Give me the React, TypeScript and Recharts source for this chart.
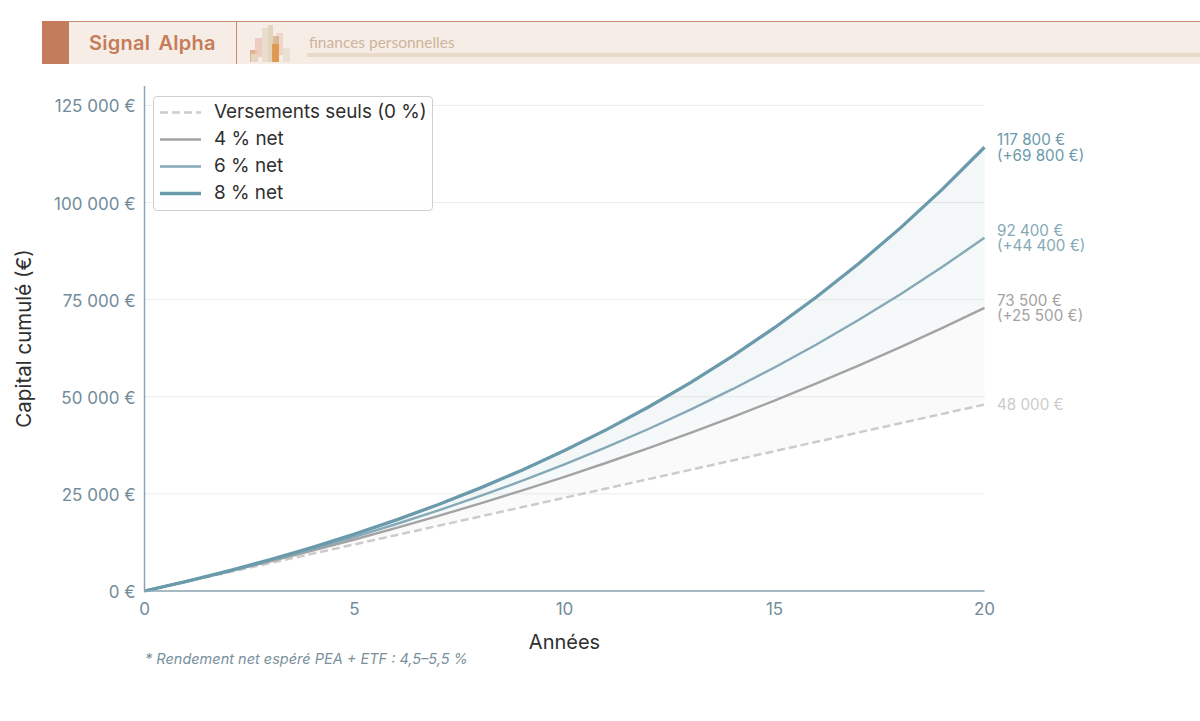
import React from 'react';
import { ComposedChart, Area, Line, XAxis, YAxis, CartesianGrid, Label, LabelList } from 'recharts';

const years = [0, 1, 2, 3, 4, 5, 6, 7, 8, 9, 10, 11, 12, 13, 14, 15, 16, 17, 18, 19, 20];
const deposits = [0, 2400, 4800, 7200, 9600, 12000, 14400, 16800, 19200, 21600, 24000, 26400, 28800, 31200, 33600, 36000, 38400, 40800, 43200, 45600, 48000];
const net4 = [0, 2448, 4994, 7642, 10396, 13259, 16238, 19335, 22556, 25907, 29391, 33015, 36783, 40702, 44779, 49018, 53426, 58011, 62780, 67739, 72897];
const net6 = [0, 2472, 5092, 7870, 10814, 13935, 17243, 20750, 24467, 28407, 32583, 37010, 41702, 46677, 51949, 57538, 63463, 69742, 76399, 83455, 90934];
const net8 = [0, 2496, 5192, 8103, 11247, 14643, 18310, 22271, 26549, 31169, 36159, 41547, 47367, 53652, 60440, 67772, 75690, 84240, 93476, 103450, 114222];

const yTicks = [0, 25000, 50000, 75000, 100000, 125000];
const xTicks = [0, 5, 10, 15, 20];
const yTickLabels = ['0 €', '25 000 €', '50 000 €', '75 000 €', '100 000 €', '125 000 €'];

const endLabels0 = ['48 000 €'];
const endLabels4 = ['73 500 €', '(+25 500 €)'];
const endLabels6 = ['92 400 €', '(+44 400 €)'];
const endLabels8 = ['117 800 €', '(+69 800 €)'];

const legendItems = [
  { name: 'Versements seuls (0 %)', color: '#cccccc', width: 2.5, dash: '8 4' },
  { name: '4 % net', color: '#a3a3a3', width: 2.4 },
  { name: '6 % net', color: '#85a9b6', width: 2.4 },
  { name: '8 % net', color: '#6a9aab', width: 3.3 },
];

const tableData = years.map((year, i) => ({
  year,
  deposits: deposits[i],
  net4: net4[i],
  net6: net6[i],
  net8: net8[i],
  band04: [deposits[i], net4[i]],
  band46: [net4[i], net6[i]],
  band68: [net6[i], net8[i]],
}));

const FONT = 'Inter, sans-serif';
const AXIS_COLOR = '#8aa4b2';
const TICK_COLOR = '#728c9a';

function endLabel(lines: string[], color: string) {
  return (props: any) => {
    const { x, y, index } = props;
    if (index !== years.length - 1) return null;
    const top = y - 0.3 - ((lines.length - 1) * 15.5) / 2;
    return (
      <text x={x + 12.5} y={top} fill={color} fontSize={15.2} fontFamily={FONT} dominantBaseline="central">
        {lines.map((line, i) => (
          <tspan key={line} x={x + 12.5} dy={i === 0 ? 0 : 15.5}>
            {line}
          </tspan>
        ))}
      </text>
    );
  };
}

function LegendBox() {
  return (
    <div
      style={{
        position: 'absolute',
        left: 153,
        top: 96,
        width: 278,
        height: 113,
        border: '1px solid #cfcfcf',
        borderRadius: 4,
        background: 'rgba(255,255,255,0.9)',
        fontFamily: FONT,
        fontSize: 18.9,
        color: '#2f2f2f',
      }}
    >
      {legendItems.map((item, i) => (
        <div key={item.name} style={{ position: 'absolute', left: 0, top: 1 + i * 27, height: 27, width: 278 }}>
          <svg width={50} height={27} style={{ position: 'absolute', left: 6, top: 1 }}>
            <line x1={0} x2={41} y1={13.5} y2={13.5} stroke={item.color} strokeWidth={item.width} strokeDasharray={item.dash} />
          </svg>
          <span style={{ position: 'absolute', left: 60, top: 3, lineHeight: '22px', whiteSpace: 'nowrap' }}>{item.name}</span>
        </div>
      ))}
    </div>
  );
}

// small skyline logo in the banner
const logoBars = [
  { x: 250, y: 50, w: 8, h: 12, c: '#dfa77f' },
  { x: 255, y: 38, w: 7, h: 19, c: '#edc5bb' },
  { x: 251, y: 54, w: 7, h: 8, c: '#e3dccd' },
  { x: 262, y: 28, w: 6, h: 34, c: '#e6dac8' },
  { x: 268, y: 25, w: 5, h: 37, c: '#e0cfb6' },
  { x: 276, y: 33, w: 7, h: 22, c: '#f0cfc6' },
  { x: 273, y: 36, w: 6, h: 26, c: '#d5b48a' },
  { x: 272, y: 44, w: 7, h: 18, c: '#dc9448' },
  { x: 283, y: 48, w: 7, h: 14, c: '#e6dfcf' },
];

function Banner() {
  return (
    <div style={{ position: 'absolute', left: 42, top: 21, width: 1158, height: 43, background: '#f6ede7', borderTop: '1px solid #c98a70', boxSizing: 'border-box' }}>
      <div style={{ position: 'absolute', left: 0, top: -1, width: 27, height: 43, background: '#c47d5c' }} />
      <div style={{ position: 'absolute', left: 194, top: 0, width: 1, height: 42, background: '#c98a70' }} />
      <div style={{ position: 'absolute', left: 47, top: 9, fontFamily: 'Inter, sans-serif', fontWeight: 600, fontSize: 20, wordSpacing: 3, letterSpacing: 0.25, color: '#c67c58', whiteSpace: 'nowrap' }}>
        Signal Alpha
      </div>
      <div style={{ position: 'absolute', left: 267, top: 11, fontFamily: 'Lato, sans-serif', fontSize: 15.5, color: '#cdb49b', whiteSpace: 'nowrap' }}>
        finances personnelles
      </div>
      <div style={{ position: 'absolute', left: 265, top: 31, width: 893, height: 4, background: '#e8d9c9' }} />
      {logoBars.map((b, i) => (
        <div key={i} style={{ position: 'absolute', left: b.x - 42, top: b.y - 22, width: b.w, height: b.h, background: b.c, opacity: 0.85 }} />
      ))}
    </div>
  );
}

export default function App() {
  return (
    <div style={{ position: 'absolute', left: 0, top: 0, width: 1200, height: 721, background: '#fff', overflow: 'hidden' }}>
      <Banner />
      <ComposedChart
        width={1200}
        height={721}
        data={tableData}
        margin={{ top: 86, right: 215.5, bottom: 100, left: 0 }}
        style={{ position: 'absolute', left: 0, top: 0 }}
      >
        <CartesianGrid horizontal vertical={false} horizontalValues={yTicks} stroke="#ececec" strokeWidth={1} />
        <XAxis
          dataKey="year"
          type="number"
          domain={[0, 20]}
          ticks={xTicks}
          height={30}
          tickLine={false}
          tickMargin={6}
          axisLine={{ stroke: AXIS_COLOR, strokeWidth: 1.5 }}
          tick={{ fill: TICK_COLOR, fontSize: 17, fontFamily: FONT }}
        >
          <Label value="Années" position="bottom" offset={14} fill="#2f2f2f" fontSize={20} fontFamily={FONT} />
        </XAxis>
        <YAxis
          type="number"
          domain={[0, 130000]}
          ticks={yTicks}
          width={144.5}
          tickLine={false}
          tickMargin={3}
          interval={0}
          tickFormatter={(v: number) => yTickLabels[yTicks.indexOf(v)]}
          axisLine={{ stroke: AXIS_COLOR, strokeWidth: 1.5 }}
          tick={{ fill: TICK_COLOR, fontSize: 17, fontFamily: FONT, dy: 1 }}
        >
          <Label value="Capital cumulé (€)" angle={-90} position="insideLeft" offset={24} dy={0} fill="#2f2f2f" fontSize={20.5} fontFamily={FONT} style={{ textAnchor: 'middle' }} />
        </YAxis>
        <Area dataKey="band04" type="linear" stroke="none" fill="#a3a3a3" fillOpacity={0.06} isAnimationActive={false} />
        <Area dataKey="band46" type="linear" stroke="none" fill="#85a9b6" fillOpacity={0.07} isAnimationActive={false} />
        <Area dataKey="band68" type="linear" stroke="none" fill="#6a9aab" fillOpacity={0.08} isAnimationActive={false} />
        <Line dataKey="deposits" type="linear" stroke="#cccccc" strokeWidth={2.5} strokeDasharray="8 4" dot={false} isAnimationActive={false}>
          <LabelList dataKey="deposits" content={endLabel(endLabels0, '#cccccc')} />
        </Line>
        <Line dataKey="net4" type="linear" stroke="#a3a3a3" strokeWidth={2.4} dot={false} isAnimationActive={false}>
          <LabelList dataKey="net4" content={endLabel(endLabels4, '#a3a3a3')} />
        </Line>
        <Line dataKey="net6" type="linear" stroke="#85a9b6" strokeWidth={2.4} dot={false} isAnimationActive={false}>
          <LabelList dataKey="net6" content={endLabel(endLabels6, '#85a9b6')} />
        </Line>
        <Line dataKey="net8" type="linear" stroke="#6a9aab" strokeWidth={3.3} dot={false} isAnimationActive={false}>
          <LabelList dataKey="net8" content={endLabel(endLabels8, '#6a9aab')} />
        </Line>
      </ComposedChart>
      <LegendBox />
      <div style={{ position: 'absolute', left: 145, top: 650, fontFamily: FONT, fontStyle: 'italic', fontSize: 14.5, color: '#7a909c', whiteSpace: 'nowrap' }}>
        * Rendement net espéré PEA + ETF : 4,5–5,5 %
      </div>
    </div>
  );
}
